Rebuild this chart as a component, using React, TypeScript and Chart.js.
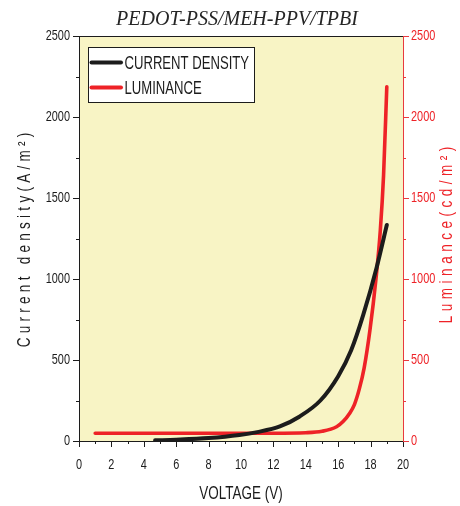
import React, { useEffect, useRef } from 'react';
import { Chart, registerables } from 'chart.js';

Chart.register(...registerables);

// ---------------- data ----------------
const chartTitle = 'PEDOT-PSS/MEH-PPV/TPBI';
const xAxisTitle = 'VOLTAGE (V)';
const leftAxisTitle = 'Current density(A/m²)';
const rightAxisTitle = 'Luminance(cd/m²)';
const legendLabels = ['CURRENT DENSITY', 'LUMINANCE'];

const xMin = 0;
const xMax = 20;
const xStep = 2;
const yMax = 2500;
const yStep = 500;

const currentVoltage = [4.7, 6, 8, 9.9, 11, 12.4, 13.6, 14.9, 16, 16.8, 17.55, 18.37, 19.0];
const currentDensity = [4, 8, 18, 37, 55, 90, 150, 250, 400, 560, 780, 1070, 1333];

const luminanceVoltage = [1, 4, 8, 12, 14, 15, 15.9, 16.3, 16.7, 17.0, 17.3, 17.6, 17.96, 18.33, 18.6, 18.8, 19.0];
const luminance = [48, 48, 48, 48, 51, 60, 88, 120, 170, 225, 320, 450, 685, 1000, 1300, 1640, 2187];

// ---------------- style ----------------
const SANS = "'Liberation Sans', Arial, sans-serif";
const SERIF = "'Liberation Serif', 'DejaVu Serif', serif";
const BG = '#f8f4c5';
const BLACK = '#1c1c1c';
const RED = '#ee2227';
const AXIS_RED = '#e83a3e';

type TextOpts = {
  size: number;
  color: string;
  family?: string;
  style?: string;
  align?: 'left' | 'right' | 'center';
  sx?: number;
  rot?: number;
  ls?: number;
};

function drawText(ctx: any, s: string, x: number, y: number, o: TextOpts) {
  ctx.save();
  ctx.translate(x, y);
  if (o.rot) ctx.rotate(o.rot);
  ctx.scale(o.sx ?? 1, 1);
  ctx.font = `${o.style ?? ''} ${o.size}px ${o.family ?? SANS}`;
  ctx.letterSpacing = o.ls ? `${o.ls}px` : '0px';
  ctx.fillStyle = o.color;
  ctx.textBaseline = 'middle';
  ctx.textAlign = 'left';
  const w = ctx.measureText(s).width - (o.ls ?? 0);
  const align = o.align ?? 'center';
  const x0 = align === 'left' ? 0 : align === 'right' ? -w : -w / 2;
  ctx.fillText(s, x0, 0);
  ctx.restore();
}

const decor = {
  id: 'decor',
  beforeDraw(chart: any) {
    const { ctx, chartArea: a } = chart;
    ctx.save();
    ctx.fillStyle = BG;
    ctx.fillRect(a.left, a.top, a.right - a.left, a.bottom - a.top);
    ctx.restore();
  },
  afterDraw(chart: any) {
    const { ctx, chartArea: a, scales } = chart;
    ctx.save();
    // top frame
    ctx.strokeStyle = BLACK;
    ctx.lineWidth = 1;
    ctx.beginPath();
    ctx.moveTo(a.left, a.top + 0.5);
    ctx.lineTo(a.right, a.top + 0.5);
    ctx.stroke();

    // left ticks + labels
    ctx.beginPath();
    for (let v = 0; v <= yMax; v += yStep / 2) {
      const p = Math.round(scales.y.getPixelForValue(v)) + 0.5;
      const len = v % yStep === 0 ? 6 : 3;
      ctx.moveTo(a.left, p);
      ctx.lineTo(a.left - len, p);
    }
    // bottom ticks
    for (let v = xMin; v <= xMax; v += xStep / 2) {
      const p = Math.round(scales.x.getPixelForValue(v)) + 0.5;
      const len = v % xStep === 0 ? 6 : 3;
      ctx.moveTo(p, a.bottom);
      ctx.lineTo(p, a.bottom + len);
    }
    ctx.stroke();
    // right ticks
    ctx.strokeStyle = AXIS_RED;
    ctx.beginPath();
    for (let v = 0; v <= yMax; v += yStep / 2) {
      const p = Math.round(scales.y1.getPixelForValue(v)) + 0.5;
      const len = v % yStep === 0 ? 6 : 3;
      ctx.moveTo(a.right, p);
      ctx.lineTo(a.right + len, p);
    }
    ctx.stroke();

    for (let v = 0; v <= yMax; v += yStep) {
      const p = scales.y.getPixelForValue(v);
      drawText(ctx, String(v), a.left - 9, p + 0.5, { size: 14, color: BLACK, align: 'right', sx: 0.78 });
      const q = scales.y1.getPixelForValue(v);
      drawText(ctx, String(v), a.right + 8, q + 0.5, { size: 14, color: RED, align: 'left', sx: 0.78 });
    }
    for (let v = xMin; v <= xMax; v += xStep) {
      const p = scales.x.getPixelForValue(v);
      drawText(ctx, String(v), p, 465, { size: 14, color: BLACK, align: 'center', sx: 0.78 });
    }

    // title
    drawText(ctx, chartTitle, 237, 20, { size: 20, color: '#262626', family: SERIF, style: 'italic' });

    // x title
    drawText(ctx, xAxisTitle, (a.left + a.right) / 2, 494, { size: 17.5, color: BLACK, sx: 0.77 });

    // y titles
    drawText(ctx, leftAxisTitle, 25, 240, { size: 18, color: BLACK, sx: 0.75, rot: -Math.PI / 2, ls: 5.7 });
    drawText(ctx, rightAxisTitle, 447, 235, { size: 18, color: RED, sx: 0.75, rot: -Math.PI / 2, ls: 6 });

    // legend
    const lx = 88.5, ly = 47.5, lw = 166, lh = 55;
    ctx.fillStyle = '#ffffff';
    ctx.fillRect(lx, ly, lw, lh);
    ctx.strokeStyle = BLACK;
    ctx.lineWidth = 1;
    ctx.strokeRect(lx, ly, lw, lh);
    const rows = [62.5, 87.5];
    const cols = [BLACK, RED];
    ctx.lineCap = 'round';
    rows.forEach((ry, i) => {
      ctx.strokeStyle = cols[i];
      ctx.lineWidth = 4;
      ctx.beginPath();
      ctx.moveTo(91.5, ry);
      ctx.lineTo(121, ry);
      ctx.stroke();
      drawText(ctx, legendLabels[i], 124.5, ry + 1, { size: 19, color: BLACK, align: 'left', sx: 0.69 });
    });
    ctx.restore();
  },
};

export default function App() {
  const ref = useRef<HTMLCanvasElement>(null);

  useEffect(() => {
    document.body.style.margin = '0';
    const canvas = ref.current!;
    const chart = new Chart(canvas, {
      type: 'line',
      data: {
        datasets: [
          {
            label: legendLabels[0],
            data: currentVoltage.map((x, i) => ({ x, y: currentDensity[i] })),
            borderColor: BLACK,
            borderWidth: 4,
            pointRadius: 0,
            cubicInterpolationMode: 'monotone',
            borderCapStyle: 'round',
            yAxisID: 'y',
          },
          {
            label: legendLabels[1],
            data: luminanceVoltage.map((x, i) => ({ x, y: luminance[i] })),
            borderColor: RED,
            borderWidth: 3.6,
            pointRadius: 0,
            cubicInterpolationMode: 'monotone',
            borderCapStyle: 'round',
            yAxisID: 'y1',
          },
        ],
      },
      options: {
        animation: false,
        responsive: false,
        devicePixelRatio: 1,
        layout: { padding: { top: 36, left: 0, right: 0, bottom: 0 } },
        plugins: { legend: { display: false }, tooltip: { enabled: false }, title: { display: false } },
        scales: {
          x: {
            type: 'linear',
            min: xMin,
            max: xMax,
            afterFit: (s: any) => { s.height = 65; },
            ticks: { display: false, stepSize: xStep },
            grid: { display: true, drawOnChartArea: false, drawTicks: false },
            border: { color: BLACK, width: 1 },
          },
          y: {
            type: 'linear',
            position: 'left',
            min: 0,
            max: yMax,
            afterFit: (s: any) => { s.width = 79; },
            ticks: { display: false, stepSize: yStep },
            grid: { display: true, drawOnChartArea: false, drawTicks: false },
            border: { color: BLACK, width: 1 },
          },
          y1: {
            type: 'linear',
            position: 'right',
            min: 0,
            max: yMax,
            afterFit: (s: any) => { s.width = 57; },
            ticks: { display: false, stepSize: yStep },
            grid: { display: true, drawOnChartArea: false, drawTicks: false },
            border: { color: AXIS_RED, width: 1 },
          },
        },
      },
      plugins: [decor],
    } as any);
    return () => chart.destroy();
  }, []);

  return <canvas ref={ref} width={460} height={506} style={{ display: 'block', width: 460, height: 506 }} />;
}
